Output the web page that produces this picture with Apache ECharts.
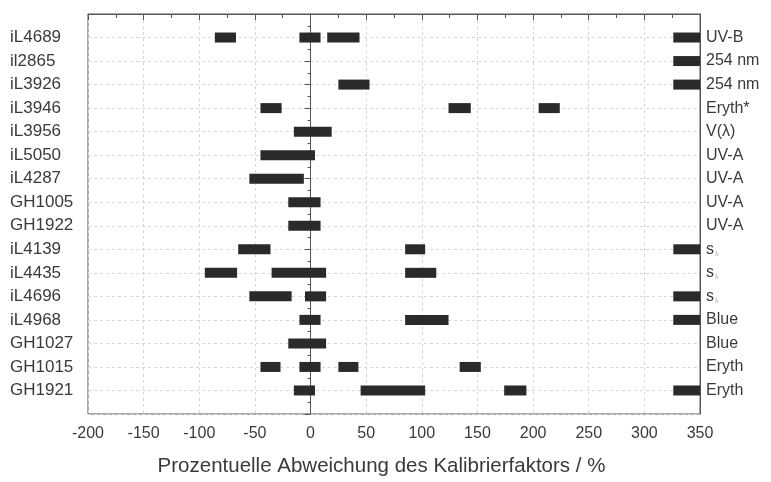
<!DOCTYPE html>
<html>
<head>
<meta charset="utf-8">
<script src="https://cdn.jsdelivr.net/npm/echarts@6/dist/echarts.min.js"></script>
<style>html,body{margin:0;padding:0;background:#fff}#c{width:771px;height:482px}</style>
</head>
<body>
<div id="c"></div>
<script>
const categories = ['iL4689','il2865','iL3926','iL3946','iL3956','iL5050','iL4287','GH1005','GH1922','iL4139','iL4435','iL4696','iL4968','GH1027','GH1015','GH1921'];
const rightLabels = ['UV-B','254 nm','254 nm','Eryth*','V(λ)','UV-A','UV-A','UV-A','UV-A','s{sub|λ}','s{sub|λ}','s{sub|λ}','Blue','Blue','Eryth','Eryth'];
const xTicks = [-200,-150,-100,-50,0,50,100,150,200,250,300,350];
// ranges [start, end] per row, in %
const segments = [
  [[-86,-67],[-10,9],[15,44],[326,350]],
  [[326,350]],
  [[25,53],[326,350]],
  [[-45,-26],[124,144],[205,224]],
  [[-15,19]],
  [[-45,4]],
  [[-55,-6]],
  [[-20,9]],
  [[-20,9]],
  [[-65,-36],[85,103],[326,350]],
  [[-95,-66],[-35,14],[85,113]],
  [[-55,-17],[-5,14],[326,350]],
  [[-10,9],[85,124],[326,350]],
  [[-20,14]],
  [[-45,-27],[-10,9],[25,43],[134,153]],
  [[-15,4],[45,103],[174,194],[326,350]]
];

const data = [];
segments.forEach((segs, i) => segs.forEach(s => data.push([i + 1, s[0], s[1]])));

const txt = '#3a3a3a';
const chart = echarts.init(document.getElementById('c'));
chart.setOption({
  animation: false,
  backgroundColor: '#fff',
  grid: {left: 88, right: 71, top: 14, bottom: 65, show: true, borderColor: '#555', borderWidth: 1},
  xAxis: {
    type: 'value', min: -200, max: 350, interval: 50,
    axisLine: {lineStyle: {color: '#555'}},
    axisTick: {length: 6, lineStyle: {color: '#555'}},
    minorTick: {show: true, splitNumber: 2, length: 4, lineStyle: {color: '#555'}},
    axisLabel: {color: txt, fontFamily: 'Liberation Sans', fontSize: 16, margin: 12,
      formatter: v => xTicks.includes(v) ? String(v) : ''},
    splitLine: {show: true, lineStyle: {color: '#d8d8d8', type: [3, 3]}},
    name: 'Prozentuelle Abweichung des Kalibrierfaktors / %',
    nameLocation: 'middle', nameGap: 42,
    nameTextStyle: {color: txt, fontFamily: 'Liberation Sans', fontSize: 20.5, padding: [0, 25, 0, 0]}
  },
  yAxis: [{
    type: 'value', min: 0, max: 17, interval: 1, inverse: true,
    axisLine: {show: true, lineStyle: {color: '#555'}},
    axisTick: {show: true, length: 6, lineStyle: {color: '#555'}},
    minorTick: {show: true, splitNumber: 2, length: 3, lineStyle: {color: '#555'}},
    axisLabel: {color: txt, fontFamily: 'Liberation Sans', fontSize: 17, margin: 78, align: 'left',
      formatter: v => categories[v - 1] || ''},
    splitLine: {show: true, lineStyle: {color: '#d8d8d8', type: [3, 3]}}
  }, {
    type: 'value', min: 0, max: 17, interval: 1, inverse: true, position: 'right',
    axisLine: {show: true, lineStyle: {color: '#555'}},
    axisTick: {show: false},
    axisLabel: {color: txt, fontFamily: 'Liberation Sans', fontSize: 16, margin: 6,
      formatter: v => rightLabels[v - 1] || '',
      rich: {sub: {fontSize: 7, color: '#aaa', verticalAlign: 'bottom', padding: [8, 0, 0, 1]}}},
    splitLine: {show: false}
  }],
  series: [{
    type: 'custom',
    clip: true,
    data: data,
    encode: {x: [1, 2], y: 0},
    renderItem: function (params, api) {
      const row = api.value(0);
      const p1 = api.coord([api.value(1), row]);
      const p2 = api.coord([api.value(2), row]);
      const h = 10;
      return {type: 'rect', shape: {x: p1[0], y: p1[1] - h / 2, width: p2[0] - p1[0], height: h},
        style: {fill: '#2a2a2a'}};
    }
  }]
});
</script>
</body>
</html>
